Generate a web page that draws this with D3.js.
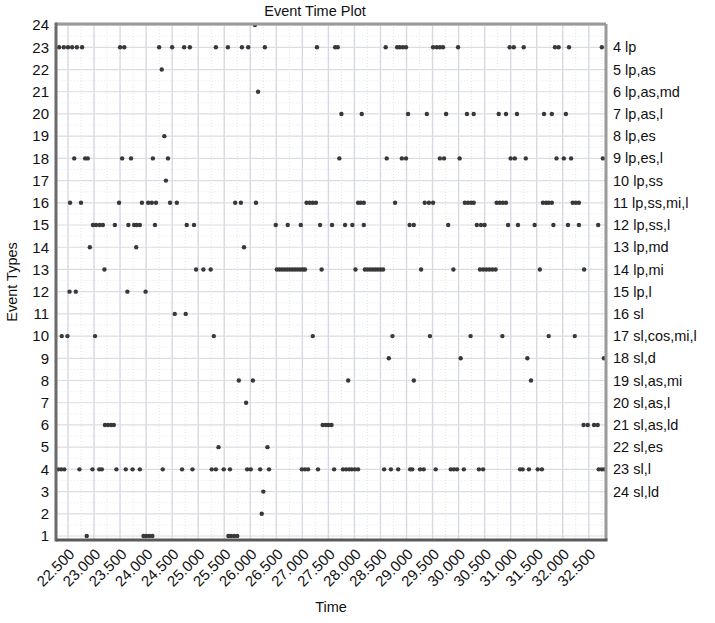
<!DOCTYPE html>
<html>
<head>
<meta charset="utf-8">
<script src="https://cdn.jsdelivr.net/npm/d3@7"></script>
<style>
  html, body { margin: 0; padding: 0; background: #fff; }
  svg { display: block; font-family: "Liberation Sans", Arial, sans-serif; }
</style>
</head>
<body>
<svg id="chart" width="715" height="623"></svg>
<script>
// Event times (thousands of time units) for each event type 1..24
const ev1  = [22.86, 23.95, 24.00, 24.06, 24.12, 25.58, 25.63, 25.69, 25.75];
const ev2  = [26.22];
const ev3  = [26.25];
const ev4  = [22.31, 22.37, 22.43, 22.72, 22.97, 23.10, 23.15, 23.43, 23.61, 23.74, 23.88, 24.32, 24.69, 24.89,
              25.26, 25.34, 25.49, 25.61, 25.94, 26.01, 26.19, 26.36, 26.99, 27.05, 27.11, 27.30, 27.61,
              27.78, 27.84, 27.90, 27.95, 28.01, 28.07, 28.57, 28.70, 28.84, 29.07, 29.11, 29.26, 29.33,
              29.56, 29.85, 29.91, 29.97, 30.10, 30.39, 30.47, 31.18, 31.23, 31.35, 31.52, 31.60, 32.69, 32.75, 32.80];
const ev5  = [25.39, 26.33];
const ev6  = [23.21, 23.27, 23.33, 23.38, 27.39, 27.45, 27.50, 27.56, 32.40, 32.48, 32.60, 32.67];
const ev7  = [25.92];
const ev8  = [25.78, 26.05, 27.88, 29.14, 31.39];
const ev9  = [28.66, 30.04, 31.32, 32.79];
const ev10 = [22.38, 22.49, 23.02, 25.30, 27.20, 28.73, 29.45, 30.23, 30.84, 31.73, 32.23];
const ev11 = [24.55, 24.76];
const ev12 = [22.53, 22.65, 23.64, 23.99];
const ev13 = [23.20, 24.96, 25.10, 25.24, 26.51, 26.56, 26.61, 26.66, 26.71, 26.76, 26.81, 26.86, 26.91,
              26.96, 27.01, 27.05, 27.37, 28.02, 28.20, 28.25, 28.30, 28.35, 28.40, 28.45, 28.50, 28.55,
              29.28, 29.90, 30.41, 30.47, 30.53, 30.59, 30.65, 30.71, 31.56, 32.41];
const ev14 = [22.92, 23.81, 25.88];
const ev15 = [22.98, 23.04, 23.11, 23.17, 23.40, 23.66, 23.77, 23.82, 23.88, 24.17, 24.78, 24.92,
              26.49, 26.72, 26.97, 27.34, 27.57, 27.82, 27.96, 28.18, 29.06, 29.14, 29.80, 30.35,
              30.43, 30.50, 30.95, 31.14, 31.46, 31.82, 32.10, 32.31, 32.68];
const ev16 = [22.54, 22.75, 23.48, 23.92, 24.04, 24.11, 24.19, 24.46, 24.59, 25.71, 25.82, 26.11,
              27.08, 27.14, 27.20, 27.26, 28.07, 28.12, 28.18, 28.78, 29.35, 29.43, 29.51,
              30.12, 30.18, 30.24, 30.29, 30.73, 30.79, 30.85, 30.91, 31.62, 31.68, 31.73, 31.79,
              32.19, 32.25, 32.31];
const ev17 = [24.38];
const ev18 = [22.62, 22.83, 22.88, 23.54, 23.71, 24.13, 24.42, 27.71, 28.62, 28.91, 28.99, 29.64, 29.72,
              30.02, 31.00, 31.08, 31.29, 31.88, 32.02, 32.16, 32.77];
const ev19 = [24.35];
const ev20 = [27.75, 28.14, 29.03, 29.39, 29.76, 30.16, 30.29, 30.77, 30.91, 31.12, 31.64, 31.79, 32.06];
const ev21 = [26.15];
const ev22 = [24.30];
const ev23 = [22.33, 22.42, 22.50, 22.58, 22.67, 22.77, 23.50, 23.58, 24.25, 24.50, 24.73, 24.84, 25.34,
              25.57, 25.84, 25.96, 26.28, 27.28, 27.63, 27.68, 28.60, 28.82, 28.87, 28.93, 28.99,
              29.51, 29.58, 29.64, 29.70, 29.99, 30.98, 31.06, 31.25, 31.85, 31.92, 32.12, 32.75];
const ev24 = [26.09];

const eventSeries = [ev1, ev2, ev3, ev4, ev5, ev6, ev7, ev8, ev9, ev10, ev11, ev12,
                     ev13, ev14, ev15, ev16, ev17, ev18, ev19, ev20, ev21, ev22, ev23, ev24];

// Axis ticks
const xTicks = d3.range(22.5, 32.5001, 0.5);
const yTicks = d3.range(1, 25);

// Side key: codes 4..24, listed against rows 23 down to 3
const keyLabels = ["4 lp", "5 lp,as", "6 lp,as,md", "7 lp,as,l", "8 lp,es", "9 lp,es,l", "10 lp,ss",
                   "11 lp,ss,mi,l", "12 lp,ss,l", "13 lp,md", "14 lp,mi", "15 lp,l", "16 sl",
                   "17 sl,cos,mi,l", "18 sl,d", "19 sl,as,mi", "20 sl,as,l", "21 sl,as,ld", "22 sl,es",
                   "23 sl,l", "24 sl,ld"];
const keyRows = d3.range(23, 2, -1);

const points = eventSeries.flatMap((times, i) => times.map(t => ({ type: i + 1, time: t })));

const svg = d3.select("#chart");
const plot = { left: 56, top: 24, right: 606, bottom: 540 };

const x = d3.scaleLinear().domain([22.27, 32.83]).range([plot.left, plot.right]);
const y = d3.scaleLinear().domain([0.82, 24.05]).range([plot.bottom, plot.top]);

// Minor vertical guides (faint dotted)
svg.append("g")
  .selectAll("line")
  .data(d3.range(22.25, 32.8, 0.5))
  .join("line")
  .attr("x1", d => x(d)).attr("x2", d => x(d))
  .attr("y1", plot.top).attr("y2", plot.bottom)
  .attr("stroke", "#e2e4e8").attr("stroke-width", 1)
  .attr("stroke-dasharray", "1,2");

// Minor horizontal guides
svg.append("g")
  .selectAll("line")
  .data(d3.range(1.5, 24, 1))
  .join("line")
  .attr("x1", plot.left).attr("x2", plot.right)
  .attr("y1", d => y(d)).attr("y2", d => y(d))
  .attr("stroke", "#eaecef").attr("stroke-width", 1)
  .attr("stroke-dasharray", "1,2");

// Major grid
svg.append("g")
  .selectAll("line")
  .data(xTicks)
  .join("line")
  .attr("x1", d => x(d)).attr("x2", d => x(d))
  .attr("y1", plot.top).attr("y2", plot.bottom)
  .attr("stroke", "#d5d9e2").attr("stroke-width", 1.4);

svg.append("g")
  .selectAll("line")
  .data(yTicks)
  .join("line")
  .attr("x1", plot.left).attr("x2", plot.right)
  .attr("y1", d => y(d)).attr("y2", d => y(d))
  .attr("stroke", "#dcdde0").attr("stroke-width", 1.2);

// Event markers
svg.append("g")
  .selectAll("circle")
  .data(points)
  .join("circle")
  .attr("cx", d => x(d.time))
  .attr("cy", d => y(d.type))
  .attr("r", 2.2)
  .attr("fill", "#383838");

// Frame
svg.append("line").attr("x1", plot.left).attr("x2", plot.right).attr("y1", plot.top).attr("y2", plot.top)
  .attr("stroke", "#9a9a9a").attr("stroke-width", 3);
svg.append("line").attr("x1", plot.right).attr("x2", plot.right).attr("y1", plot.top).attr("y2", plot.bottom)
  .attr("stroke", "#9a9a9a").attr("stroke-width", 3);
svg.append("line").attr("x1", plot.left).attr("x2", plot.left).attr("y1", plot.top - 1.5).attr("y2", plot.bottom + 1.5)
  .attr("stroke", "#6a6a6a").attr("stroke-width", 3);
svg.append("line").attr("x1", plot.left).attr("x2", plot.right + 1.5).attr("y1", plot.bottom).attr("y2", plot.bottom)
  .attr("stroke", "#5a5a5a").attr("stroke-width", 3);

// Y axis
const yAxis = svg.append("g")
  .attr("transform", `translate(${plot.left},0)`)
  .call(d3.axisLeft(y).tickValues(yTicks).tickSize(0).tickPadding(7).tickFormat(d3.format("d")));
yAxis.select(".domain").remove();
yAxis.selectAll("text").attr("font-size", 15).attr("fill", "#111")
  .style("font-family", "'Liberation Sans', Arial, sans-serif");

// X axis
const xAxis = svg.append("g")
  .attr("transform", `translate(0,${plot.bottom})`)
  .call(d3.axisBottom(x).tickValues(xTicks).tickSize(0).tickFormat(d3.format(".3f")));
xAxis.select(".domain").remove();
xAxis.selectAll("text")
  .attr("font-size", 15).attr("fill", "#111")
  .style("font-family", "'Liberation Sans', Arial, sans-serif")
  .attr("text-anchor", "end")
  .attr("dy", null).attr("y", 0)
  .attr("transform", "translate(7,15) rotate(-45)");

// Side key
svg.append("g")
  .selectAll("text")
  .data(keyLabels)
  .join("text")
  .attr("x", plot.right + 7)
  .attr("y", (d, i) => y(keyRows[i]))
  .attr("dy", "0.35em")
  .attr("font-size", 14.5)
  .attr("fill", "#111")
  .text(d => d);

// Titles
svg.append("text").attr("x", 315).attr("y", 16).attr("text-anchor", "middle")
  .attr("font-size", 14.5).attr("fill", "#111").text("Event Time Plot");
svg.append("text").attr("x", 331).attr("y", 612).attr("text-anchor", "middle")
  .attr("font-size", 14.5).attr("fill", "#111").text("Time");
svg.append("text").attr("transform", "translate(17,282) rotate(-90)").attr("text-anchor", "middle")
  .attr("font-size", 14.5).attr("fill", "#111").text("Event Types");
</script>
</body>
</html>
